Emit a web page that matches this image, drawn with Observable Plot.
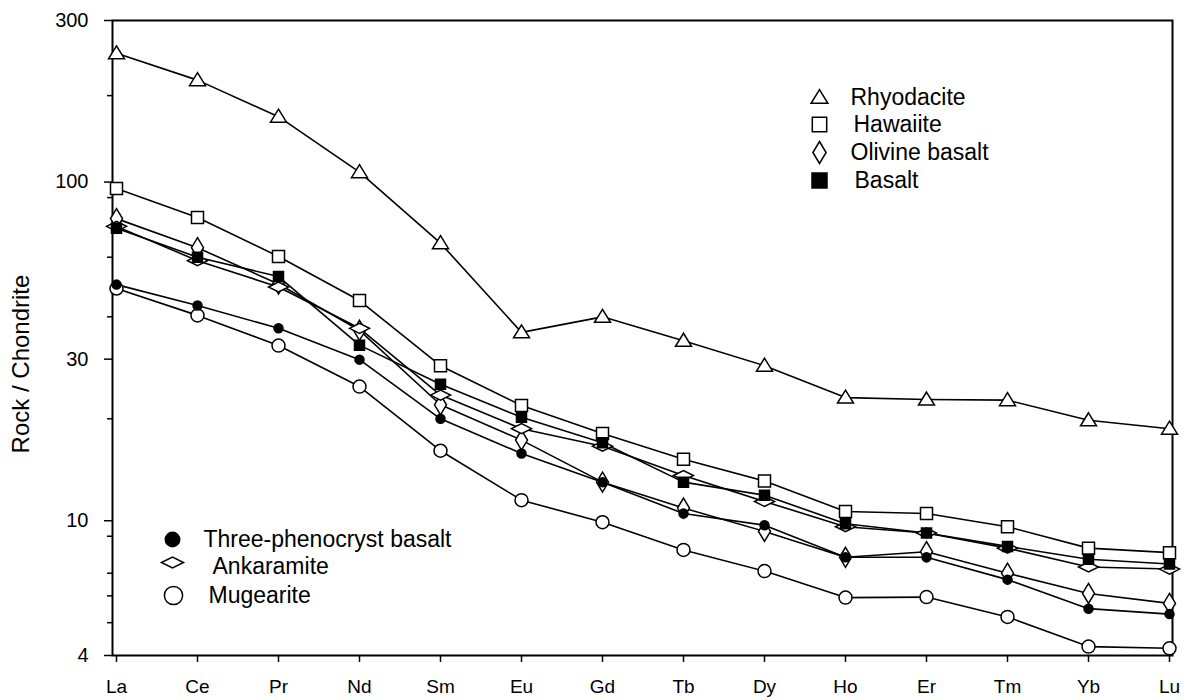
<!DOCTYPE html>
<html><head><meta charset="utf-8">
<script src="https://cdn.jsdelivr.net/npm/d3@7"></script>
<script src="https://cdn.jsdelivr.net/npm/@observablehq/plot@0.6"></script>
<style>body{margin:0;background:#fff}</style>
</head><body><div id="chart"></div>
<script>
const elements = ["La","Ce","Pr","Nd","Sm","Eu","Gd","Tb","Dy","Ho","Er","Tm","Yb","Lu"];
const yTicks = [4, 10, 30, 100, 300];
const yMinorTicks = [5, 6, 7, 9, 20, 40, 60, 90, 180];

const rhyodacite      = [240, 200, 156, 107, 66, 36, 40, 34, 28.7, 23.1, 22.8, 22.7, 19.8, 18.7];
const hawaiite        = [95.7, 78.6, 60.3, 44.7, 28.7, 21.9, 18.1, 15.2, 13.1, 10.65, 10.5, 9.6, 8.3, 8.05];
const olivineBasalt   = [78, 64, 50, 36.5, 22, 17.3, 13, 10.9, 9.3, 7.8, 8.1, 7.0, 6.1, 5.7];
const basalt          = [73, 60, 52.6, 33, 25.3, 20.2, 17, 13, 11.9, 9.8, 9.2, 8.4, 7.7, 7.45];
const threePhenocryst = [49.8, 43.2, 37, 29.9, 20, 15.8, 13, 10.5, 9.7, 7.8, 7.8, 6.7, 5.5, 5.3];
const ankaramite      = [74, 58.6, 49, 37, 23.5, 18.7, 16.6, 13.6, 11.4, 9.6, 9.2, 8.3, 7.3, 7.2];
const mugearite       = [48.5, 40.4, 32.9, 24.9, 16.1, 11.5, 9.9, 8.2, 7.1, 5.93, 5.95, 5.2, 4.25, 4.2];

const seriesNames = ["Rhyodacite","Hawaiite","Olivine basalt","Ankaramite","Mugearite","Basalt","Three-phenocryst basalt"];
const seriesValues = [rhyodacite, hawaiite, olivineBasalt, ankaramite, mugearite, basalt, threePhenocryst];

const data = seriesNames.flatMap((s, i) => seriesValues[i].map((v, j) => ({series: s, element: elements[j], value: v})));

// marker shapes (style only)
const shape = pts => ({draw(ctx, size){ const k = Math.sqrt(size / Math.PI); pts.forEach(([a,b],i) => i ? ctx.lineTo(a*k,b*k) : ctx.moveTo(a*k,b*k)); ctx.closePath(); }});
const circle = rad => ({draw(ctx, size){ const k = Math.sqrt(size / Math.PI); ctx.moveTo(rad*k, 0); ctx.arc(0, 0, rad*k, 0, 2*Math.PI); ctx.closePath(); }});
const styles = {
  "Rhyodacite":              {symbol: shape([[0,-7.5],[8,5.5],[-8,5.5]]), fill: "white", legendK: 1.05},
  "Hawaiite":                {symbol: shape([[-6,-6],[6,-6],[6,6],[-6,6]]), fill: "white", legendK: 1.2},
  "Olivine basalt":          {symbol: shape([[0,-10],[6,0],[0,10],[-6,0]]), fill: "white", legendK: 1.1},
  "Basalt":                  {symbol: shape([[-5,-5],[5,-5],[5,5],[-5,5]]), fill: "black", legendK: 1.5},
  "Three-phenocryst basalt": {symbol: circle(4.5), fill: "black", legendK: 1.6},
  "Ankaramite":              {symbol: shape([[-10,0],[0,-5],[10,0],[0,5]]), fill: "white", legendK: 1.1},
  "Mugearite":               {symbol: circle(6.5), fill: "white", legendK: 1.4}
};

const legendTop = ["Rhyodacite","Hawaiite","Olivine basalt","Basalt"];
const legendBottom = ["Three-phenocryst basalt","Ankaramite","Mugearite"];
const legendTopSym = [[707,77],[707,104],[707,132],[707,160]];
const legendTopTxt = [[738,77],[741,104],[738,132],[742,160]];
const legendBotSym = [[60,519],[60,542],[61,575]];
const legendBotTxt = [[91,519],[100,546],[96,575]];

const legendMarks = [];
[[legendTop, legendTopSym, legendTopTxt],[legendBottom, legendBotSym, legendBotTxt]].forEach(([names, sp, tp]) => {
  names.forEach((n, i) => {
    const st = styles[n];
    legendMarks.push(Plot.dot([n], {frameAnchor: "top-left", dx: sp[i][0], dy: sp[i][1], symbol: st.symbol, r: st.legendK, fill: st.fill, stroke: "black", strokeWidth: 1.5}));
    legendMarks.push(Plot.text([n], {frameAnchor: "top-left", dx: tp[i][0], dy: tp[i][1], text: d => d, textAnchor: "start", lineAnchor: "middle", fontSize: 23, fill: "black"}));
  });
});

const font = "'Liberation Sans', Arial, Helvetica, sans-serif";

const chart = Plot.plot({
  width: 1187,
  height: 700,
  marginLeft: 112,
  marginRight: 15,
  marginTop: 20,
  marginBottom: 45,
  style: {fontFamily: font, background: "white", color: "black", overflow: "visible"},
  x: {type: "point", domain: elements, padding: 0, label: null},
  y: {type: "log", domain: [4, 300], label: null},
  marks: [
    Plot.axisY(yMinorTicks, {tickSize: 5, tickFormat: () => "", strokeWidth: 1.5}),
    Plot.axisY(yTicks, {tickSize: 8, tickPadding: 16, fontSize: 20, tickFormat: d => String(d), strokeWidth: 1.5}),
    Plot.axisX({tickSize: 7, tickPadding: 17, fontSize: 19, strokeWidth: 1.5}),
    Plot.frame({stroke: "black", strokeWidth: 2}),
    Plot.text(["Rock / Chondrite"], {frameAnchor: "left", dx: -91, dy: 26, rotate: -90, textAnchor: "middle", lineAnchor: "middle", text: d => d, fontSize: 24, fill: "black"}),
    Plot.line(data, {x: "element", y: "value", z: "series", stroke: "black", strokeWidth: 1.6}),
    ...seriesNames.map(s => Plot.dot(data.filter(d => d.series === s), {x: "element", y: "value", symbol: styles[s].symbol, r: 1, fill: styles[s].fill, stroke: "black", strokeWidth: 1.5})),
    ...legendMarks
  ]
});
document.getElementById("chart").appendChild(chart);
</script>
</body></html>
